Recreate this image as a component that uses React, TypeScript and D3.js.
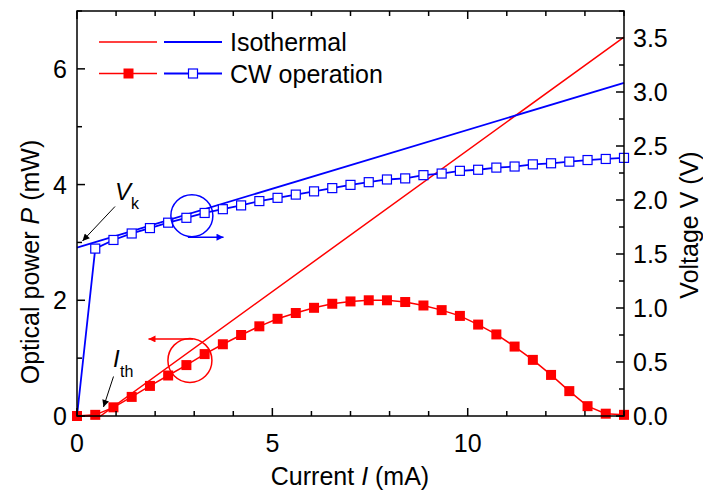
import React from 'react';
import * as d3 from 'd3';

// current steps for the CW measurement (mA)
const cwCurrent = [
  0, 0.467, 0.933, 1.4, 1.867, 2.333, 2.8, 3.267, 3.733, 4.2, 4.667, 5.133, 5.6, 6.067, 6.533,
  7.0, 7.467, 7.933, 8.4, 8.867, 9.333, 9.8, 10.267, 10.733, 11.2, 11.667, 12.133, 12.6, 13.067,
  13.533, 14.0,
];
const cwPower = [
  0, 0.02, 0.15, 0.33, 0.52, 0.7, 0.88, 1.07, 1.24, 1.4, 1.55, 1.68, 1.78, 1.87, 1.94, 1.98, 2.0,
  2.0, 1.97, 1.91, 1.83, 1.73, 1.58, 1.41, 1.2, 0.97, 0.71, 0.43, 0.17, 0.04, 0.02,
];
const cwVoltage = [
  0, 1.55, 1.63, 1.69, 1.74, 1.79, 1.835, 1.88, 1.915, 1.95, 1.99, 2.02, 2.05, 2.08, 2.11, 2.14,
  2.165, 2.19, 2.2, 2.23, 2.245, 2.27, 2.28, 2.3, 2.31, 2.33, 2.34, 2.355, 2.37, 2.38, 2.39,
];
// isothermal curves (straight lines)
const isoPowerI = [0, 0.6, 14];
const isoPowerP = [0, 0, 6.55];
const isoVoltI = [0, 14];
const isoVoltV = [1.56, 3.085];

const xTicksMajor = [0, 5, 10];
const pTicksMajor = [0, 2, 4, 6];
const vTicksMajor = [0, 0.5, 1.0, 1.5, 2.0, 2.5, 3.0, 3.5];

const W = 703;
const H = 496;
const left = 77;
const right = 624;
const top = 11;
const bottom = 416;
const font = 'Liberation Sans, Arial, Helvetica, sans-serif';
const RED = '#ff0000';
const BLUE = '#0000ff';

const x = d3.scaleLinear().domain([0, 14]).range([left, right]);
const yP = d3.scaleLinear().domain([0, 7]).range([bottom, top]);
const yV = d3.scaleLinear().domain([0, 3.75]).range([bottom, top]);

const App = () => {
  const pLine = d3.line<number>().x((_, i) => x(cwCurrent[i])).y((d) => yP(d));
  const vLine = d3.line<number>().x((_, i) => x(cwCurrent[i])).y((d) => yV(d));
  const isoP = d3.line<number>().x((_, i) => x(isoPowerI[i])).y((d) => yP(d));
  const isoV = d3.line<number>().x((_, i) => x(isoVoltI[i])).y((d) => yV(d));

  const xMinor = d3.range(0, 15, 1);
  const pMinor = d3.range(0, 8, 1);
  const vMinor = d3.range(0, 3.76, 0.25);

  // annotation circles
  const redC = { cx: x(2.89), cy: yP(0.96) };
  const blueC = { cx: x(2.94), cy: yV(1.855) };

  return (
    <svg width={W} height={H} style={{ position: 'absolute', left: 0, top: 0, background: '#fff' }} fontFamily={font}>
      <defs>
        <marker id="headBlack" viewBox="0 0 10 10" refX="10" refY="5" markerWidth="9" markerHeight="7" markerUnits="userSpaceOnUse" orient="auto">
          <path d="M0,0 L10,5 L0,10 z" fill="#000" />
        </marker>
        <marker id="headBlue" viewBox="0 0 10 10" refX="10" refY="5" markerWidth="12" markerHeight="7" markerUnits="userSpaceOnUse" orient="auto">
          <path d="M0,0 L10,5 L0,10 z" fill={BLUE} />
        </marker>
        <marker id="headRed" viewBox="0 0 10 10" refX="10" refY="5" markerWidth="12" markerHeight="7" markerUnits="userSpaceOnUse" orient="auto">
          <path d="M0,0 L10,5 L0,10 z" fill={RED} />
        </marker>
      </defs>

      {/* data */}
      <path d={isoP(isoPowerP) || ''} fill="none" stroke={RED} strokeWidth={1.5} />
      <path d={isoV(isoVoltV) || ''} fill="none" stroke={BLUE} strokeWidth={1.8} />
      <path d={pLine(cwPower) || ''} fill="none" stroke={RED} strokeWidth={1.5} />
      <path d={vLine(cwVoltage) || ''} fill="none" stroke={BLUE} strokeWidth={1.8} />
      {cwPower.map((p, i) => (
        <rect key={'p' + i} x={x(cwCurrent[i]) - 5} y={yP(p) - 5} width={10} height={10} fill={RED} />
      ))}
      {cwVoltage.map((v, i) =>
        i === 0 ? null : (
          <rect key={'v' + i} x={x(cwCurrent[i]) - 4.5} y={yV(v) - 4.5} width={9} height={9} fill="#fff" stroke={BLUE} strokeWidth={1.2} />
        )
      )}

      {/* annotations */}
      <circle cx={redC.cx} cy={redC.cy} r={22} fill="none" stroke={RED} strokeWidth={1.5} />
      <line x1={redC.cx + 3} y1={redC.cy - 21.5} x2={x(1.83)} y2={redC.cy - 21.5} stroke={RED} strokeWidth={1.5} markerEnd="url(#headRed)" />
      <circle cx={blueC.cx} cy={blueC.cy} r={21} fill="none" stroke={BLUE} strokeWidth={1.5} />
      <line x1={blueC.cx - 4} y1={blueC.cy + 21.5} x2={x(3.75)} y2={blueC.cy + 21.5} stroke={BLUE} strokeWidth={1.5} markerEnd="url(#headBlue)" />

      <line x1={115} y1={206.5} x2={82.5} y2={241} stroke="#000" strokeWidth={1} markerEnd="url(#headBlack)" />
      <text x={115} y={200} fontSize={24} fontStyle="italic">V</text>
      <text x={131} y={209} fontSize={16}>k</text>
      <line x1={113.5} y1={376.5} x2={103.5} y2={407} stroke="#000" strokeWidth={1} markerEnd="url(#headBlack)" />
      <text x={113} y={367} fontSize={24} fontStyle="italic">I</text>
      <text x={120} y={377} fontSize={16}>th</text>

      {/* frame */}
      <rect x={left} y={top} width={right - left} height={bottom - top} fill="none" stroke="#000" strokeWidth={1.5} />

      {/* x ticks bottom & top */}
      {xMinor.map((t) => {
        const len = xTicksMajor.includes(t) ? 8 : 5;
        return (
          <g key={'x' + t}>
            <line x1={x(t)} x2={x(t)} y1={bottom} y2={bottom - len} stroke="#000" strokeWidth={1.5} />
            <line x1={x(t)} x2={x(t)} y1={top} y2={top + len} stroke="#000" strokeWidth={1.5} />
          </g>
        );
      })}
      {xTicksMajor.map((t) => (
        <text key={'xl' + t} x={x(t)} y={452} fontSize={25} textAnchor="middle">{t}</text>
      ))}

      {/* left axis */}
      {pMinor.map((t) => (
        <line key={'p' + t} x1={left} x2={left + (pTicksMajor.includes(t) ? 8 : 5)} y1={yP(t)} y2={yP(t)} stroke="#000" strokeWidth={1.5} />
      ))}
      {pTicksMajor.map((t) => (
        <text key={'pl' + t} x={67} y={yP(t) + 9} fontSize={25} textAnchor="end">{t}</text>
      ))}

      {/* right axis */}
      {vMinor.map((t) => (
        <line key={'v' + t} x1={right} x2={right - (vTicksMajor.some((m) => Math.abs(m - t) < 1e-6) ? 8 : 5)} y1={yV(t)} y2={yV(t)} stroke="#000" strokeWidth={1.5} />
      ))}
      {vTicksMajor.map((t) => (
        <text key={'vl' + t} x={633} y={yV(t) + 9} fontSize={25}>{t.toFixed(1)}</text>
      ))}

      {/* axis titles */}
      <text x={350} y={485} fontSize={25} textAnchor="middle">
        Current <tspan fontStyle="italic">I</tspan> (mA)
      </text>
      <text transform="translate(39,262) rotate(-90)" fontSize={25} textAnchor="middle">
        Optical power <tspan fontStyle="italic">P</tspan> (mW)
      </text>
      <text transform="translate(698,225) rotate(-90)" fontSize={25} textAnchor="middle">
        Voltage V (V)
      </text>

      {/* legend */}
      <line x1={99} x2={157} y1={42} y2={42} stroke={RED} strokeWidth={1.5} />
      <line x1={164} x2={222} y1={42} y2={42} stroke={BLUE} strokeWidth={1.8} />
      <text x={230} y={51} fontSize={25}>Isothermal</text>
      <line x1={99} x2={157} y1={73.5} y2={73.5} stroke={RED} strokeWidth={1.5} />
      <rect x={123.5} y={68.5} width={10} height={10} fill={RED} />
      <line x1={164} x2={222} y1={73.5} y2={73.5} stroke={BLUE} strokeWidth={1.8} />
      <rect x={188.5} y={69} width={9} height={9} fill="#fff" stroke={BLUE} strokeWidth={1.2} />
      <text x={230} y={82.5} fontSize={25}>CW operation</text>
    </svg>
  );
};

export default App;
